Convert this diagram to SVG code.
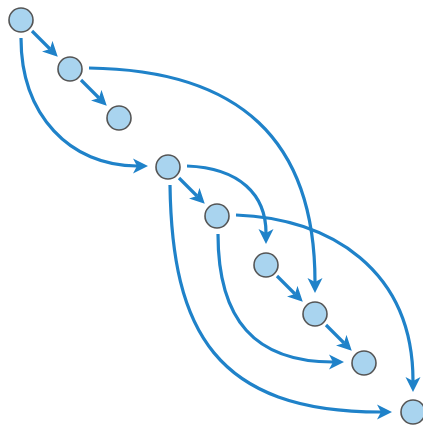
<svg xmlns="http://www.w3.org/2000/svg" width="423" height="428" viewBox="0 0 423 428">
<style>
.e{fill:none;stroke:#1f82c9;stroke-width:3.2;marker-end:url(#a)}
.n{fill:#a9d4ef;stroke:#555;stroke-width:1.6}
</style>
<defs>
<marker id="a" markerUnits="userSpaceOnUse" markerWidth="16" markerHeight="16" refX="4" refY="7.5" orient="auto" viewBox="0 0 16 15">
<path d="M0,0 L15,7.5 L0,15 L4,7.5 z" fill="#1f82c9"/>
</marker>
</defs>
<rect width="423" height="428" fill="#fff"/>
<g id="edges">
<path class="e" d="M32,31 L50,49"/>
<path class="e" d="M81,80 L99,98"/>
<path class="e" d="M179,178 L197,196"/>
<path class="e" d="M277,276 L295,294"/>
<path class="e" d="M326,325 L344,343"/>
<path class="e" d="M21,38 C21,115 70,166 137,166"/>
<path class="e" d="M89,68 C240,70 315,140 315,282"/>
<path class="e" d="M187,166 C240,168 266,195 266,233"/>
<path class="e" d="M170,185 C172,330 215,412 381,412"/>
<path class="e" d="M218,234 C218,320 255,362 333,362"/>
<path class="e" d="M236,215 C330,218 413,270 413,381"/>
</g>
<g id="n1"><circle class="n" cx="21" cy="20" r="12"/></g>
<g id="n2"><circle class="n" cx="70" cy="69" r="12"/></g>
<g id="n3"><circle class="n" cx="119" cy="118" r="12"/></g>
<g id="n4"><circle class="n" cx="168" cy="167" r="12"/></g>
<g id="n5"><circle class="n" cx="217" cy="216" r="12"/></g>
<g id="n6"><circle class="n" cx="266" cy="265" r="12"/></g>
<g id="n7"><circle class="n" cx="315" cy="314" r="12"/></g>
<g id="n8"><circle class="n" cx="364" cy="363" r="12"/></g>
<g id="n9"><circle class="n" cx="413" cy="412" r="12"/></g>
</svg>
